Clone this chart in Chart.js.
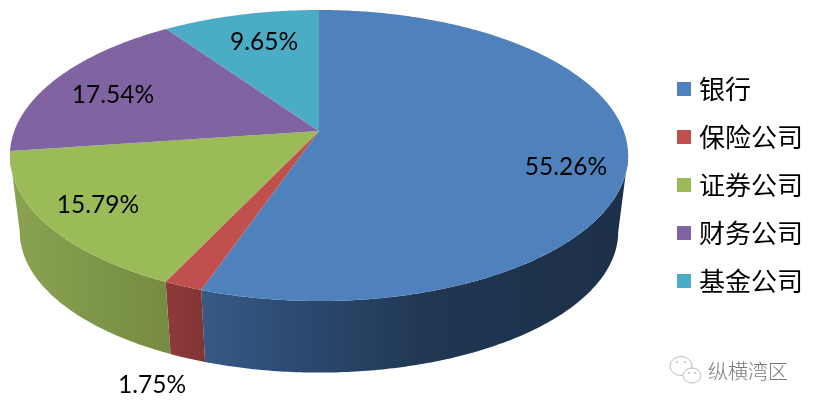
<!DOCTYPE html>
<html>
<head>
<meta charset="utf-8">
<script src="https://cdn.jsdelivr.net/npm/chart.js@4/dist/chart.umd.min.js"></script>
<style>
  html, body { margin: 0; padding: 0; background: #fff; }
  #box { width: 814px; height: 406px; overflow: hidden; }
</style>
</head>
<body>
<div id="box"><canvas id="pie"></canvas></div>
<script>
const categories = ['银行', '保险公司', '证券公司', '财务公司', '基金公司'];
const shares = [55.26, 1.75, 15.79, 17.54, 9.65];
const shareLabels = ['55.26%', '1.75%', '15.79%', '17.54%', '9.65%'];
const topColors = ['#4f81bd', '#c0504d', '#9bbb59', '#8064a2', '#4bacc6'];

// where the percent texts sit on the page
const labelSpots = [[566, 167], [152, 385], [98, 205], [113, 95], [264, 42]];

// perspective of the tilted disc
const view = { cx: 319, topY: 131, bottomY: 208, ax: 304.7, ay: 141.4, k: 0.1684, bottomScale: 0.968 };
const frontFrom = Math.acos(-view.k);
const frontTo = 2 * Math.PI - frontFrom;

function project(theta, r, bottom) {
    const s = bottom ? view.bottomScale : 1;
    const d = 1 + view.k * r * Math.cos(theta);
    return [
        view.cx + s * view.ax * r * Math.sin(theta) / d,
        (bottom ? view.bottomY : view.topY) - s * view.ay * r * Math.cos(theta) / d
    ];
}

function wallFill(ctx, i) {
    const stops = [
        [203, 627, [[0, '#365a85'], [0.25, '#2b486e'], [0.55, '#203651'], [1, '#1d3049']]],
        [168, 206, [[0, '#8d3a39'], [1, '#7f3533']]],
        [10, 171, [[0, '#8aa352'], [1, '#748b41']]]
    ][i];
    if (!stops) return null;
    const g = ctx.createLinearGradient(stops[0], 0, stops[1], 0);
    stops[2].forEach(s => g.addColorStop(s[0], s[1]));
    return g;
}

const tiltedPie = {
    id: 'tiltedPie',
    beforeDatasetsDraw(chart) {
        const ctx = chart.ctx;
        const arcs = chart.getDatasetMeta(0).data;
        const angles = arcs.map(a => [a.startAngle + Math.PI / 2, a.endAngle + Math.PI / 2]);

        // side wall first, only the part that faces us
        angles.forEach((ang, i) => {
            const from = Math.max(ang[0], frontFrom);
            const to = Math.min(ang[1], frontTo);
            if (to <= from) return;
            const n = Math.ceil((to - from) * 90);
            ctx.beginPath();
            for (let j = 0; j <= n; j++) {
                const p = project(from + (to - from) * j / n, 1, false);
                j ? ctx.lineTo(p[0], p[1]) : ctx.moveTo(p[0], p[1]);
            }
            for (let j = n; j >= 0; j--) {
                const p = project(from + (to - from) * j / n, 1, true);
                ctx.lineTo(p[0], p[1]);
            }
            ctx.closePath();
            ctx.fillStyle = wallFill(ctx, i);
            ctx.fill();
        });

        // top face
        angles.forEach((ang, i) => {
            const n = Math.ceil((ang[1] - ang[0]) * 90);
            const c = project(0, 0, false);
            ctx.beginPath();
            ctx.moveTo(c[0], c[1]);
            for (let j = 0; j <= n; j++) {
                const p = project(ang[0] + (ang[1] - ang[0]) * j / n, 1, false);
                ctx.lineTo(p[0], p[1]);
            }
            ctx.closePath();
            ctx.fillStyle = arcs[i].options.backgroundColor;
            ctx.fill();
        });
        return false;
    },
    afterDraw(chart) {
        const ctx = chart.ctx;
        ctx.save();
        ctx.fillStyle = '#000';
        ctx.font = '24.5px Lato';
        ctx.textAlign = 'center';
        ctx.textBaseline = 'middle';
        shareLabels.forEach((t, i) => ctx.fillText(t, labelSpots[i][0], labelSpots[i][1]));

        // watermark
        ctx.fillStyle = '#777';
        ctx.font = '300 20px "Noto Sans CJK SC"';
        ctx.textAlign = 'left';
        ctx.fillText('纵横湾区', 708, 371);
        ctx.strokeStyle = '#bbb';
        ctx.lineWidth = 1;
        ctx.beginPath();
        ctx.ellipse(681, 366, 11, 9.5, 0, 0, Math.PI * 2);
        ctx.stroke();
        ctx.fillStyle = '#fff';
        ctx.beginPath();
        ctx.ellipse(692, 375.5, 9, 7.5, 0, 0, Math.PI * 2);
        ctx.fill();
        ctx.stroke();
        ctx.fillStyle = '#bbb';
        [[677, 362], [685, 362], [689, 373], [695, 373]].forEach(p => {
            ctx.beginPath();
            ctx.arc(p[0], p[1], 1, 0, Math.PI * 2);
            ctx.fill();
        });
        ctx.restore();
    }
};

new Chart(document.getElementById('pie'), {
    type: 'pie',
    data: {
        labels: categories,
        datasets: [{ data: shares, backgroundColor: topColors, borderWidth: 0 }]
    },
    options: {
        responsive: true,
        maintainAspectRatio: false,
        animation: false,
        layout: { padding: { right: 1, bottom: 36 } },
        plugins: {
            tooltip: { enabled: false },
            legend: {
                position: 'right',
                labels: {
                    usePointStyle: true,
                    pointStyle: 'rect',
                    boxWidth: 4,
                    boxHeight: 14,
                    padding: 22,
                    color: '#000',
                    font: { family: '"Noto Sans CJK SC"', size: 26 }
                }
            }
        }
    },
    plugins: [tiltedPie]
});
</script>
</body>
</html>
